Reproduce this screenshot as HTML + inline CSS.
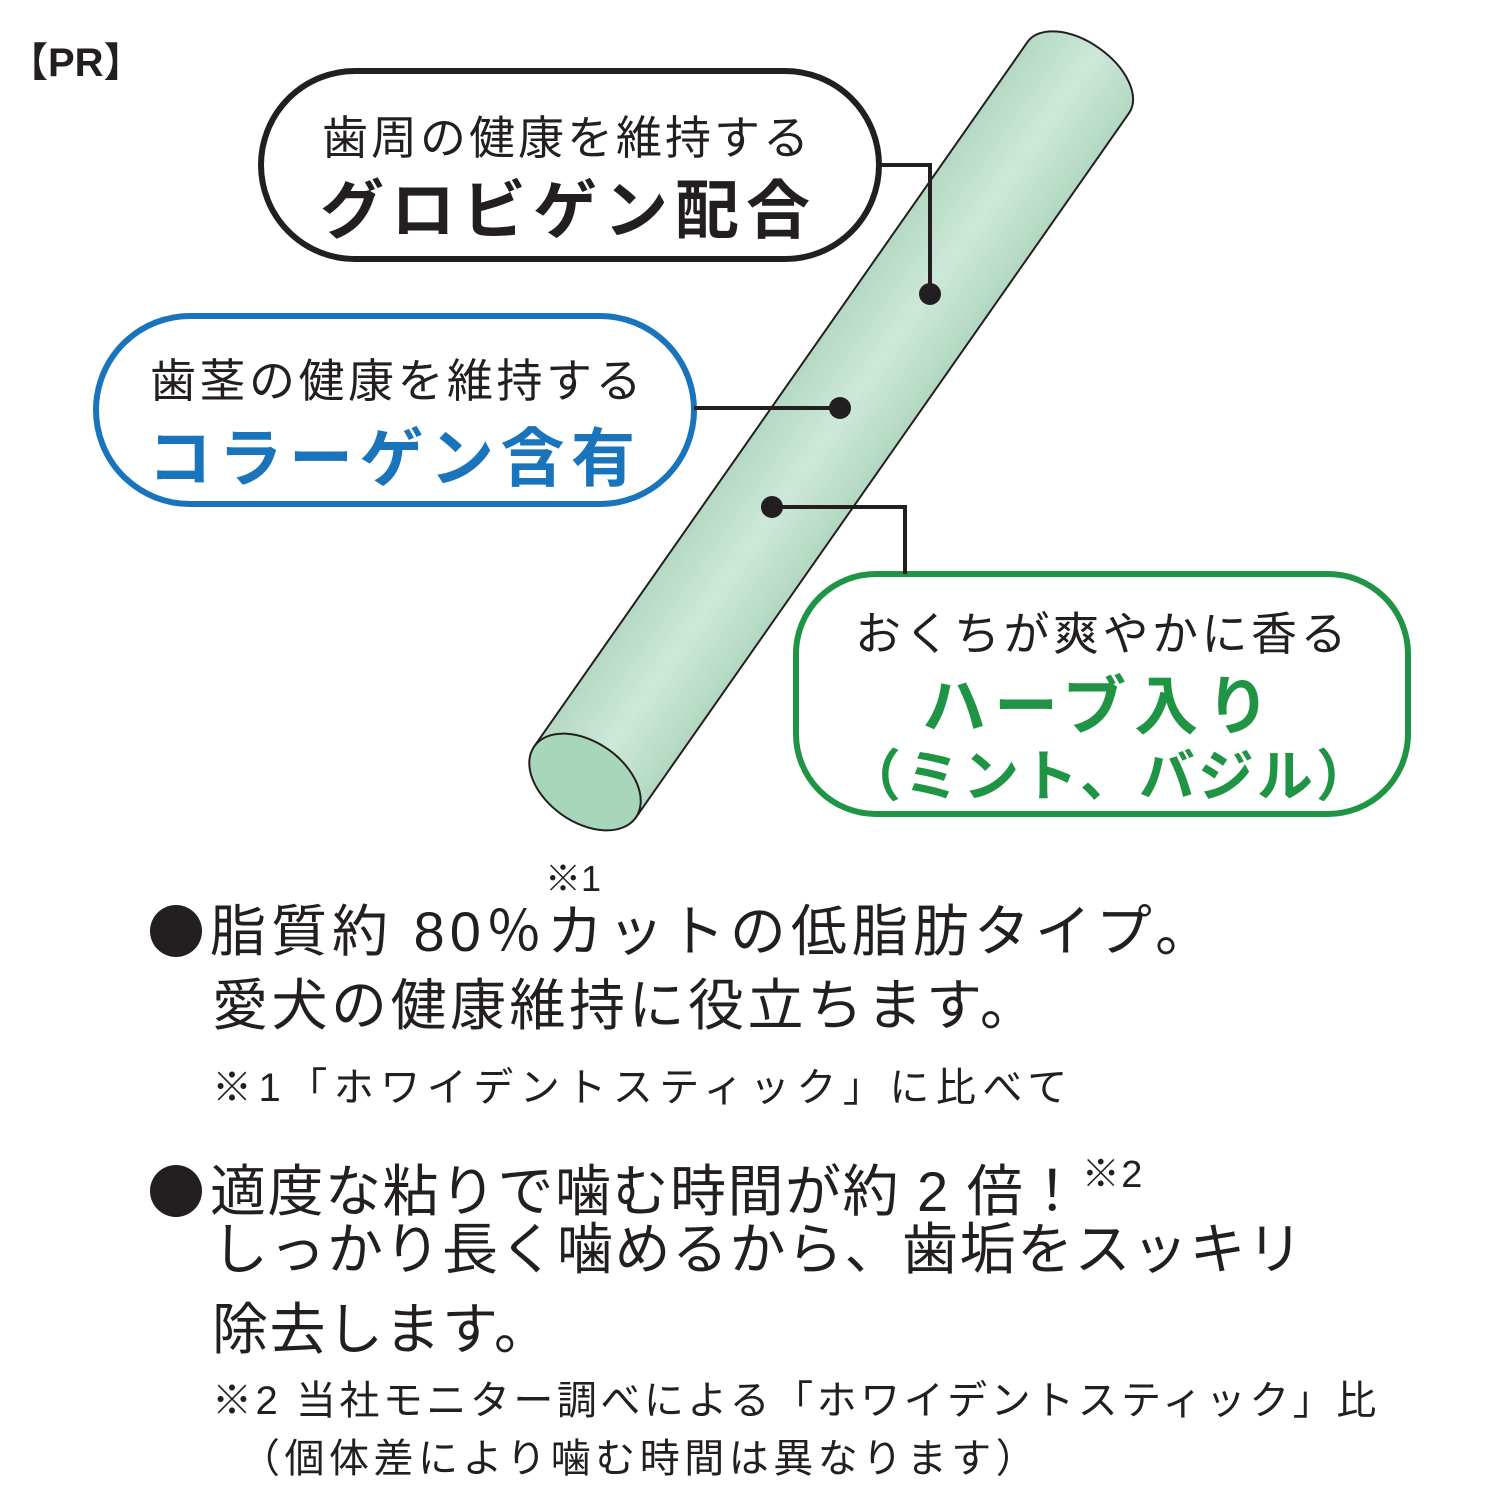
<!DOCTYPE html>
<html><head><meta charset="utf-8"><style>
body{margin:0;width:1500px;height:1500px;background:#fff;position:relative;overflow:hidden;font-family:"Liberation Sans","Noto Sans CJK JP",sans-serif;color:#231f20}
.t{position:absolute;white-space:nowrap}
.b{display:inline-block;width:52px;height:52px;border-radius:50%;background:#231f20;margin-right:8px;vertical-align:-6px}
</style></head><body>
<svg width="1500" height="1500" style="position:absolute;left:0;top:0">
<defs><linearGradient id="g" x1="0" y1="0" x2="0" y2="1"><stop offset="0" stop-color="#b4d9c3"/><stop offset="0.5" stop-color="#cde8d9"/><stop offset="1" stop-color="#b2d8c1"/></linearGradient></defs>
<g transform="translate(585,782) rotate(-55)">
<path d="M0,-62 L860,-62 A36,62 0 0 1 860,62 L0,62 Z" fill="url(#g)" stroke="#231f20" stroke-width="2"/>
<ellipse cx="0" cy="0" rx="40" ry="62" fill="#a8d6bb" stroke="#231f20" stroke-width="2"/>
</g>
<rect x="261" y="71" width="618" height="188" rx="94" fill="#fff" stroke="#231f20" stroke-width="6"/>
<rect x="96" y="316" width="598" height="188" rx="94" fill="#fff" stroke="#1a74bb" stroke-width="6"/>
<rect x="796" y="574" width="612" height="240" rx="80" fill="#fff" stroke="#1f9445" stroke-width="6"/>
<polyline points="879,165 930,165 930,293" fill="none" stroke="#231f20" stroke-width="4"/>
<circle cx="930" cy="294" r="11" fill="#231f20"/>
<line x1="694" y1="408" x2="840" y2="408" stroke="#231f20" stroke-width="4"/>
<circle cx="840" cy="408" r="11" fill="#231f20"/>
<polyline points="772,507 905,507 905,574" fill="none" stroke="#231f20" stroke-width="4"/>
<circle cx="772" cy="507" r="11" fill="#231f20"/>
</svg>
<div class="t" style="left:8px;top:30px;font-size:40px;font-weight:bold">【PR】</div>
<div class="t" style="left:322px;top:102px;font-size:46px;letter-spacing:3px">歯周の健康を維持する</div>
<div class="t" style="left:320px;top:160px;font-size:64px;font-weight:bold;letter-spacing:7px">グロビゲン配合</div>
<div class="t" style="left:150px;top:345px;font-size:46px;letter-spacing:3.5px">歯茎の健康を維持する</div>
<div class="t" style="left:148px;top:408px;font-size:64px;font-weight:bold;color:#1a74bb;letter-spacing:6.5px">コラーゲン含有</div>
<div class="t" style="left:855px;top:598px;font-size:46px;letter-spacing:3.5px">おくちが爽やかに香る</div>
<div class="t" style="left:922px;top:656px;font-size:64px;font-weight:bold;color:#1f9445;letter-spacing:8px">ハーブ入り</div>
<div class="t" style="left:845px;top:732px;font-size:56px;font-weight:bold;color:#1f9445;letter-spacing:3px">（ミント、バジル）</div>
<div class="t" style="left:545px;top:850px;font-size:36px">※1</div>
<div class="t" style="left:150px;top:895px;font-size:56px;line-height:74px;letter-spacing:5px"><span class="b"></span>脂質約 80％カットの低脂肪タイプ。</div>
<div class="t" style="left:212px;top:969px;font-size:56px;line-height:74px;letter-spacing:3.5px">愛犬の健康維持に役立ちます。</div>
<div class="t" style="left:212px;top:1055px;font-size:40px;letter-spacing:6.5px">※1「ホワイデントスティック」に比べて</div>
<div class="t" style="left:150px;top:1135px;font-size:56px;line-height:80px;letter-spacing:1.5px"><span class="b"></span>適度な粘りで噛む時間が約 2 倍！<span style="font-size:38px;vertical-align:24px">※2</span></div>
<div class="t" style="left:212px;top:1210px;font-size:56px;line-height:80px;letter-spacing:1.5px">しっかり長く噛めるから、歯垢をスッキリ<br>除去します。</div>
<div class="t" style="left:212px;top:1372px;font-size:40px;line-height:58px;letter-spacing:3.5px">※2 当社モニター調べによる「ホワイデントスティック」比</div>
<div class="t" style="left:240px;top:1430px;font-size:40px;line-height:58px;letter-spacing:4.5px">（個体差により噛む時間は異なります）</div>
</body></html>
